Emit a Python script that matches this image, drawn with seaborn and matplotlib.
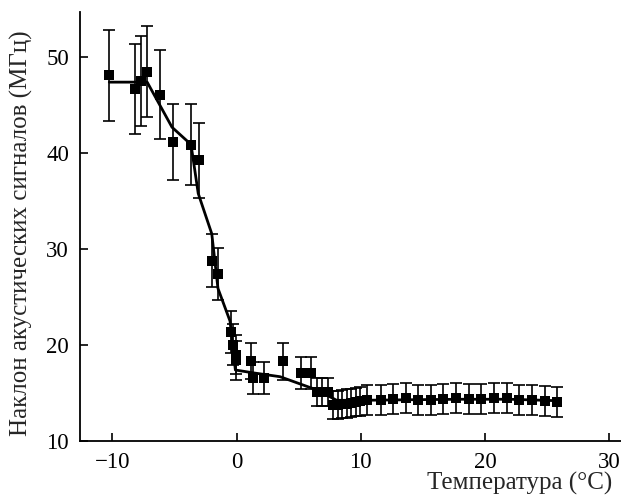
import numpy as np
import matplotlib
matplotlib.use("Agg")
import matplotlib.pyplot as plt
import seaborn as sns

# measured points (temperature, slope, error)
temp = [-10.25, -8.18, -7.72, -7.19, -6.17, -5.12, -3.67, -3.05, -2.0, -1.47,
        -0.48, -0.27, -0.07, -0.05, 1.16, 1.35, 2.2, 3.7, 5.2, 6.03,
        6.5, 6.85, 7.33, 7.79, 8.14, 8.49, 8.86, 9.21, 9.59, 9.94,
        10.53, 11.6, 12.62, 13.6, 14.63, 15.65, 16.64, 17.66, 18.69, 19.68,
        20.7, 21.75, 22.76, 23.8, 24.8, 25.82]
slope = [48.1, 46.7, 47.5, 48.5, 46.1, 41.15, 40.9, 39.27, 28.8, 27.4,
         21.35, 20.05, 19.0, 18.4, 18.35, 16.56, 16.56, 18.3, 17.08, 17.08,
         15.1, 15.1, 15.1, 13.72, 13.72, 13.82, 13.9, 13.96, 14.06, 14.13,
         14.24, 14.24, 14.34, 14.48, 14.24, 14.24, 14.4, 14.5, 14.4, 14.4,
         14.5, 14.5, 14.3, 14.3, 14.17, 14.06]
err = [4.75, 4.7, 4.7, 4.7, 4.65, 4.0, 4.2, 3.9, 2.8, 2.75,
       2.2, 2.1, 2.0, 2.0, 1.9, 1.7, 1.7, 1.9, 1.7, 1.7,
       1.5, 1.5, 1.5, 1.45, 1.45, 1.45, 1.5, 1.5, 1.5, 1.5,
       1.55, 1.55, 1.55, 1.55, 1.55, 1.55, 1.55, 1.55, 1.55, 1.55,
       1.55, 1.55, 1.55, 1.55, 1.55, 1.55]

# fitted curve
fit_t = [-10.25, -7.2, -5.2, -3.67, -3.09, -2.0, -1.5, -0.53, -0.1, 1.35,
         3.5, 6.5, 8.06, 10.0, 14.0, 18.0, 22.0, 25.82]
fit_s = [47.4, 47.4, 42.7, 40.9, 35.8, 31.6, 25.9, 22.5, 17.4, 17.1,
         16.7, 15.3, 14.24, 14.24, 14.3, 14.35, 14.35, 14.2]

sns.set_style("ticks")
plt.rcParams['font.family'] = ['Liberation Serif', 'DejaVu Serif']

fig = plt.figure(figsize=(6.21, 5.04), dpi=100)
ax = fig.add_axes([0.129, 0.125, 0.871, 0.851])

ax.errorbar(temp, slope, yerr=err, fmt='none', ecolor='black',
            elinewidth=1.2, capsize=4, capthick=1.2, zorder=2)
sns.lineplot(x=fit_t, y=fit_s, ax=ax, color='black', linewidth=2,
             sort=False, zorder=3)
sns.scatterplot(x=temp, y=slope, ax=ax, marker='s', s=42, color='black',
                edgecolor='black', linewidth=0, zorder=4)

ax.set_xlim(-12.6, 30.95)
ax.set_ylim(10, 54.7)
ax.set_xticks([-10, 0, 10, 20, 30])
ax.set_yticks([10, 20, 30, 40, 50])
ax.tick_params(direction='in', length=6, width=1.2, labelsize=16.5, pad=8,
               colors='black')
sns.despine(ax=ax)
for sp in ['left', 'bottom']:
    ax.spines[sp].set_linewidth(1.3)
    ax.spines[sp].set_color('black')

ax.set_xlabel('Температура (°C)', fontsize=18, ha='right', va='top')
ax.xaxis.set_label_coords(0.983, -0.072)
ax.set_ylabel('Наклон акустических сигналов (МГц)', fontsize=18)
ax.yaxis.set_label_coords(-0.087, 0.485)

fig.savefig('out.png', dpi=100)
